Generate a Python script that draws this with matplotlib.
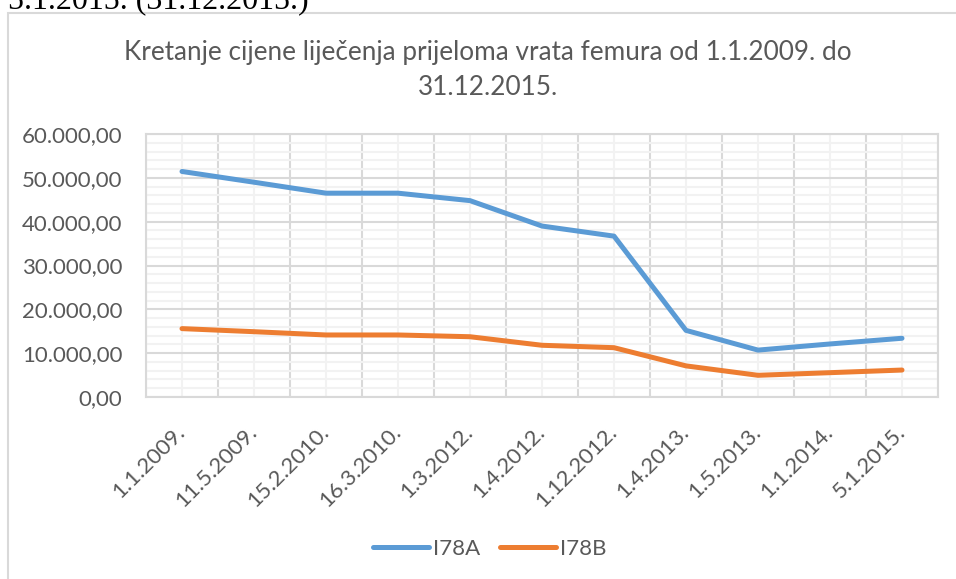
import numpy as np
import matplotlib
matplotlib.use("Agg")
import matplotlib.pyplot as plt
from matplotlib.ticker import FuncFormatter, MultipleLocator
from matplotlib.patches import Rectangle

plt.rcParams['font.family'] = ['Lato', 'DejaVu Sans']

# data
dates = ["1.1.2009.", "11.5.2009.", "15.2.2010.", "16.3.2010.", "1.3.2012.", "1.4.2012.",
         "1.12.2012.", "1.4.2013.", "1.5.2013.", "1.1.2014.", "5.1.2015."]
i78a = [51450, 49000, 46500, 46500, 44800, 39000, 36700, 15200, 10700, 12100, 13400]
i78b = [15600, 14900, 14150, 14150, 13750, 11800, 11250, 7100, 4950, 5550, 6150]

blue = "#5B9BD5"
orange = "#ED7D31"
txt = "#595959"

fig = plt.figure(figsize=(9.56, 5.79), dpi=100)
W, H = 956, 579

# chart frame (cut off on the right and at the bottom)
fig.patches.append(Rectangle((8 / W, -0.1), 1.1, 1.1 - 13 / H, transform=fig.transFigure,
                             facecolor="none", edgecolor="#d9d9d9", linewidth=1.5, zorder=-1))

# cropped line of document text above the chart
fig.text(8 / W, 1 - 8 / H, "5.1.2015. (31.12.2015.)", family="Liberation Serif",
         fontsize=23, color="black", va="baseline", ha="left")

ax = fig.add_axes([146 / W, 1 - 397 / H, (938 - 146) / W, (397 - 134) / H])
x = np.arange(len(dates))
ax.plot(x, i78a, color=blue, lw=3.6, solid_capstyle="round", solid_joinstyle="round", label="I78A", zorder=3)
ax.plot(x, i78b, color=orange, lw=3.6, solid_capstyle="round", solid_joinstyle="round", label="I78B", zorder=3)

ax.set_xlim(-0.5, len(dates) - 0.5)
ax.set_ylim(0, 60000)
ax.set_xticks(x)
ax.set_xticklabels(dates, rotation=45, ha="right", va="center", rotation_mode="anchor")
ax.set_xticks(np.arange(len(dates) + 1) - 0.5, minor=True)
ax.yaxis.set_major_locator(MultipleLocator(10000))
ax.yaxis.set_minor_locator(MultipleLocator(2000))
ax.yaxis.set_major_formatter(FuncFormatter(lambda v, p: f"{v:,.2f}".replace(",", "X").replace(".", ",").replace("X", ".")))

ax.xaxis.grid(True, which="minor", color="#d9d9d9", lw=1.5)
ax.xaxis.grid(True, which="major", color="#f2f2f2", lw=1.5)
ax.yaxis.grid(True, which="major", color="#d9d9d9", lw=1.5)
ax.yaxis.grid(True, which="minor", color="#f2f2f2", lw=1.5)
ax.set_axisbelow(True)

ax.tick_params(which="both", length=0, labelsize=16, labelcolor=txt)
ax.tick_params(axis="y", pad=17)
ax.tick_params(axis="x", pad=23)
for s in ax.spines.values():
    s.set_color("#d9d9d9")
    s.set_linewidth(1.5)

fig.text(488 / W, 1 - 70 / H, "Kretanje cijene liječenja prijeloma vrata femura od 1.1.2009. do\n31.12.2015.",
         ha="center", va="center", fontsize=18.8, color=txt, linespacing=1.5)

fig.legend(loc="center", bbox_to_anchor=(490 / W, 1 - 549 / H), ncol=2, frameon=False,
           fontsize=16, labelcolor=txt, handlelength=2.5, handletextpad=0.2, columnspacing=0.9)

fig.savefig("out.png", dpi=100)
